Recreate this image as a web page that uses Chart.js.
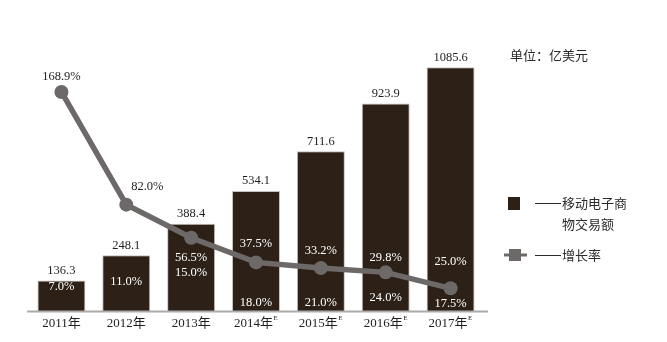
<!DOCTYPE html>
<html>
<head>
<meta charset="utf-8">
<script src="https://cdn.jsdelivr.net/npm/chart.js@4.4.0/dist/chart.umd.min.js"></script>
<style>
    body { margin: 0; background: #fff; }
    canvas { display: block; }
</style>
</head>
<body>
<canvas id="mobileChart" width="667" height="342"></canvas>
<script>
// 移动电子商物交易额 (亿美元) and yearly growth
const years = ['2011年', '2012年', '2013年', '2014年', '2015年', '2016年', '2017年'];
const forecast = [false, false, false, true, true, true, true];
const volume = [136.3, 248.1, 388.4, 534.1, 711.6, 923.9, 1085.6];
const growth = [168.9, 82.0, 56.5, 37.5, 33.2, 29.8, 17.5];
const share = [7.0, 11.0, 15.0, 18.0, 21.0, 24.0, 25.0];

// label placement tweaks (px)
const growthLabelShift = [[0, -15], [21, -18], [0, 20], [0, -19], [0, -17], [0, -15], [0, 15]];
const shareLabelRise = [24, 29, 38, 8, 8, 13, 49];

const BAR_COLOR = '#2c2017';
const LINE_COLOR = '#6d6968';
const TEXT_COLOR = '#1f1f1f';
const NUM_FONT = '12.5px "Liberation Serif", "Noto Sans CJK SC", serif';
const CJK_FONT = '13px "Noto Sans CJK SC", sans-serif';

// long dash + text, the dash drawn as a rule so its length doesn't depend on the font
function dashLabel(ctx, text, x, y) {
    ctx.strokeStyle = '#2a2a2a';
    ctx.lineWidth = 1;
    ctx.beginPath();
    ctx.moveTo(x, y + 0.5);
    ctx.lineTo(x + 26, y + 0.5);
    ctx.stroke();
    ctx.fillText(text, x + 27, y);
}

const labelsPlugin = {
    id: 'labels',
    afterDraw(chart) {
        const ctx = chart.ctx;
        const x = chart.scales.x;
        const y = chart.scales.y;
        const y2 = chart.scales.y2;
        const base = chart.chartArea.bottom;

        ctx.save();

        // baseline
        ctx.strokeStyle = '#ababab';
        ctx.lineWidth = 2;
        ctx.beginPath();
        ctx.moveTo(27, base + 0.5);
        ctx.lineTo(488, base + 0.5);
        ctx.stroke();

        ctx.font = NUM_FONT;
        ctx.textAlign = 'center';
        ctx.textBaseline = 'middle';

        years.forEach((year, i) => {
            const cx = x.getPixelForValue(i);
            const top = y.getPixelForValue(volume[i]);

            // value above the bar
            ctx.fillStyle = TEXT_COLOR;
            ctx.fillText(volume[i].toFixed(1), cx, top - 10);

            // share inside the bar
            ctx.fillStyle = '#ffffff';
            ctx.fillText(share[i].toFixed(1) + '%', cx, base - shareLabelRise[i]);

            // growth rate near the point
            const gx = cx + growthLabelShift[i][0];
            const gy = y2.getPixelForValue(growth[i]) + growthLabelShift[i][1];
            ctx.fillStyle = gy > top ? '#ffffff' : TEXT_COLOR;
            ctx.fillText(growth[i].toFixed(1) + '%', gx, gy);

            // category label, with E for estimates
            ctx.fillStyle = TEXT_COLOR;
            ctx.font = '13px "Liberation Serif", "Noto Sans CJK SC", serif';
            const w = ctx.measureText(year).width;
            const ew = forecast[i] ? 5 : 0;
            ctx.textAlign = 'left';
            ctx.fillText(year, cx - (w + ew) / 2, base + 13);
            if (forecast[i]) {
                ctx.font = '7px "Liberation Serif", serif';
                ctx.fillText('E', cx - (w + ew) / 2 + w + 0.5, base + 7);
            }
            ctx.textAlign = 'center';
            ctx.font = NUM_FONT;
        });

        // unit
        ctx.font = CJK_FONT;
        ctx.textAlign = 'left';
        ctx.fillStyle = '#2a2a2a';
        ctx.fillText('单位：亿美元', 510, 55);

        // legend: bars
        ctx.fillStyle = BAR_COLOR;
        ctx.fillRect(508, 197, 12, 13);
        ctx.fillStyle = '#2a2a2a';
        dashLabel(ctx, '移动电子商', 535, 203);
        ctx.fillText('物交易额', 562, 224);

        // legend: line
        ctx.strokeStyle = LINE_COLOR;
        ctx.lineWidth = 3;
        ctx.beginPath();
        ctx.moveTo(504, 255);
        ctx.lineTo(527, 255);
        ctx.stroke();
        ctx.fillStyle = LINE_COLOR;
        ctx.fillRect(509, 249, 12, 12);
        ctx.fillStyle = '#2a2a2a';
        dashLabel(ctx, '增长率', 535, 255);

        ctx.restore();
    }
};

const ctx = document.getElementById('mobileChart').getContext('2d');
new Chart(ctx, {
    data: {
        labels: years,
        datasets: [
            {
                type: 'line',
                label: '增长率',
                data: growth,
                yAxisID: 'y2',
                borderColor: LINE_COLOR,
                backgroundColor: LINE_COLOR,
                borderWidth: 5.5,
                pointRadius: 7,
                pointBackgroundColor: LINE_COLOR,
                pointBorderWidth: 0,
                tension: 0,
                order: 0
            },
            {
                type: 'bar',
                label: '移动电子商物交易额',
                data: volume,
                yAxisID: 'y',
                backgroundColor: BAR_COLOR,
                borderColor: '#c4c0bc',
                borderWidth: 1,
                categoryPercentage: 1,
                barPercentage: 0.74,
                order: 1
            }
        ]
    },
    options: {
        responsive: false,
        animation: false,
        layout: {
            padding: { left: 29, right: 184, top: 40, bottom: 31 }
        },
        plugins: {
            legend: { display: false },
            tooltip: { enabled: false }
        },
        scales: {
            x: { display: false, offset: true },
            y: { display: false, min: 0, max: 1207 },
            y2: { display: false, min: 0, max: 209 }
        }
    },
    plugins: [labelsPlugin]
});
</script>
</body>
</html>
